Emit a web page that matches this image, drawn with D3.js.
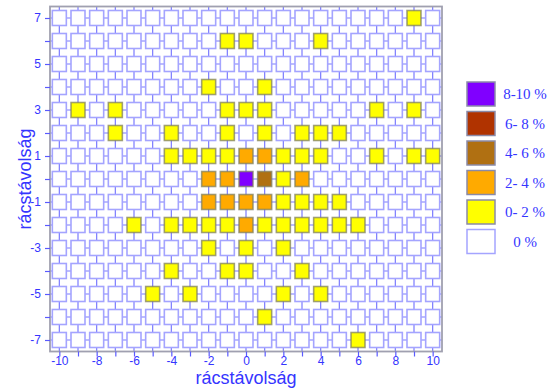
<!DOCTYPE html>
<html><head><meta charset="utf-8">
<script src="https://cdn.jsdelivr.net/npm/d3@7"></script>
<style>body{margin:0;background:#fff;} svg{display:block;}</style>
</head><body>
<script>
// x categories (grid distance) and y categories
const xValues = d3.range(-10, 11);
const yValues = d3.range(7, -8, -1);
const xTickLabels = [-10, -8, -6, -4, -2, 0, 2, 4, 6, 8, 10];
const yTickLabels = [7, 5, 3, 1, -1, -3, -5, -7];
// level index per cell (0 = 0 %, 1 = 0-2 %, 2 = 2-4 %, 3 = 4-6 %, 4 = 6-8 %, 5 = 8-10 %)
const row7  = [0,0,0,0,0,0,0,0,0,0,0,0,0,0,0,0,0,0,0,1,0];
const row6  = [0,0,0,0,0,0,0,0,0,1,1,0,0,0,1,0,0,0,0,0,0];
const row5  = [0,0,0,0,0,0,0,0,0,0,0,0,0,0,0,0,0,0,0,0,0];
const row4  = [0,0,0,0,0,0,0,0,1,0,0,1,0,0,0,0,0,0,0,0,0];
const row3  = [0,1,0,1,0,0,0,0,0,1,1,1,0,0,0,0,0,1,0,1,0];
const row2  = [0,0,0,1,0,0,1,0,0,1,0,1,0,1,1,1,0,0,0,0,0];
const row1  = [0,0,0,0,0,0,1,1,1,1,2,2,1,1,1,0,0,1,0,1,1];
const row0  = [0,0,0,0,0,0,0,0,2,2,5,3,1,2,0,0,0,0,0,0,0];
const rowM1 = [0,0,0,0,0,0,0,0,2,2,2,2,1,1,1,1,0,0,0,0,0];
const rowM2 = [0,0,0,0,1,0,1,1,1,1,2,1,1,1,1,1,1,0,0,0,0];
const rowM3 = [0,0,0,0,0,0,0,0,1,0,1,0,1,0,0,0,0,0,0,0,0];
const rowM4 = [0,0,0,0,0,0,1,0,0,1,1,0,0,1,0,0,0,0,0,0,0];
const rowM5 = [0,0,0,0,0,1,0,1,0,0,0,0,1,0,1,0,0,0,0,0,0];
const rowM6 = [0,0,0,0,0,0,0,0,0,0,0,1,0,0,0,0,0,0,0,0,0];
const rowM7 = [0,0,0,0,0,0,0,0,0,0,0,0,0,0,0,0,1,0,0,0,0];
const levelRows = [row7,row6,row5,row4,row3,row2,row1,row0,rowM1,rowM2,rowM3,rowM4,rowM5,rowM6,rowM7];
const levelLabels = ["0 %", "0- 2 %", "2- 4 %", "4- 6 %", "6- 8 %", "8-10 %"];
const levelColors = ["#ffffff", "#ffff00", "#ffaa00", "#b07012", "#b03300", "#8000ff"];
const axisTitle = "rácstávolság";

(function () {
const W = 553, H = 389;
const svg = d3.select("body").append("svg").attr("width", W).attr("height", H);
const pL = 50, pR = 442, pT = 6.5, pB = 351.5;
const x = d3.scaleLinear().domain([-10.5, 10.5]).range([pL, pR]);
const y = d3.scaleLinear().domain([-7.5, 7.5]).range([pB, pT]);
const blue = "#3535ff";

// grid lines
const g = svg.append("g");
g.selectAll("line.v").data(xValues).enter().append("line")
  .attr("x1", d => x(d)).attr("x2", d => x(d)).attr("y1", pT).attr("y2", pB)
  .attr("stroke", "#7a7aff").attr("stroke-width", 1.2);
g.selectAll("line.h").data(yValues).enter().append("line")
  .attr("y1", d => y(d)).attr("y2", d => y(d)).attr("x1", pL).attr("x2", pR)
  .attr("stroke", "#7a7aff").attr("stroke-width", 1.2);

// cells
const cells = [];
yValues.forEach((yv, i) => xValues.forEach((xv, j) => cells.push({x: xv, y: yv, l: levelRows[i][j]})));
const cw = 14, ch = 15;
g.selectAll("rect.cell").data(cells).enter().append("rect")
  .attr("x", d => x(d.x) - cw / 2).attr("y", d => y(d.y) - ch / 2)
  .attr("width", cw).attr("height", ch)
  .attr("fill", d => levelColors[d.l])
  .attr("stroke", d => d.l === 0 ? "#a4a4ff" : "#808060")
  .attr("stroke-opacity", d => d.l === 0 ? 1 : 0.75)
  .attr("stroke-width", 1.6);

// frame
svg.append("rect").attr("x", pL).attr("y", pT).attr("width", pR - pL).attr("height", pB - pT)
  .attr("fill", "none").attr("stroke", "#a0a0b0").attr("stroke-width", 1.8);

// axes
const xAxis = d3.axisBottom(x).tickValues(xValues).tickSize(5).tickPadding(0)
  .tickFormat(d => xTickLabels.includes(d) ? d : "");
const ax = svg.append("g").attr("transform", `translate(0,${pB})`).call(xAxis);
const yAxis = d3.axisLeft(y).tickValues(yValues).tickSize(5).tickPadding(4)
  .tickFormat(d => yTickLabels.includes(d) ? d : "");
const ay = svg.append("g").attr("transform", `translate(${pL},0)`).call(yAxis);
[ax, ay].forEach(a => {
  a.select(".domain").remove();
  a.selectAll("line").attr("stroke", "#5a5aff").attr("stroke-width", 1.2);
  a.selectAll("text").filter(function () { return this.textContent === ""; }).remove();
  a.selectAll("text").attr("fill", blue).style("font-family", "Liberation Sans, Arial, sans-serif").style("font-size", "12px");
});

// axis titles
svg.append("text").attr("x", x(0)).attr("y", 384).attr("text-anchor", "middle")
  .attr("fill", blue).style("font-family", "Liberation Sans, Arial, sans-serif").style("font-size", "18px")
  .text(axisTitle);
svg.append("text").attr("transform", `translate(31,${y(0)}) rotate(-90)`).attr("text-anchor", "middle")
  .attr("fill", blue).style("font-family", "Liberation Sans, Arial, sans-serif").style("font-size", "18px")
  .text(axisTitle);

// legend
const legendOrder = [5, 4, 3, 2, 1, 0];
const lg = svg.append("g");
legendOrder.forEach((l, i) => {
  const ly = 82 + i * 29.5;
  lg.append("rect").attr("x", 467).attr("y", ly).attr("width", 28).attr("height", 24)
    .attr("fill", levelColors[l])
    .attr("stroke", l === 0 ? "#a4a4ff" : "#8a8aa8").attr("stroke-width", 1.5);
  lg.append("text").attr("x", 525).attr("y", ly + 17).attr("text-anchor", "middle")
    .attr("fill", blue).style("font-family", "Liberation Serif, Times New Roman, serif").style("font-size", "15px")
    .text(levelLabels[l]);
});
})();
</script>
</body></html>
